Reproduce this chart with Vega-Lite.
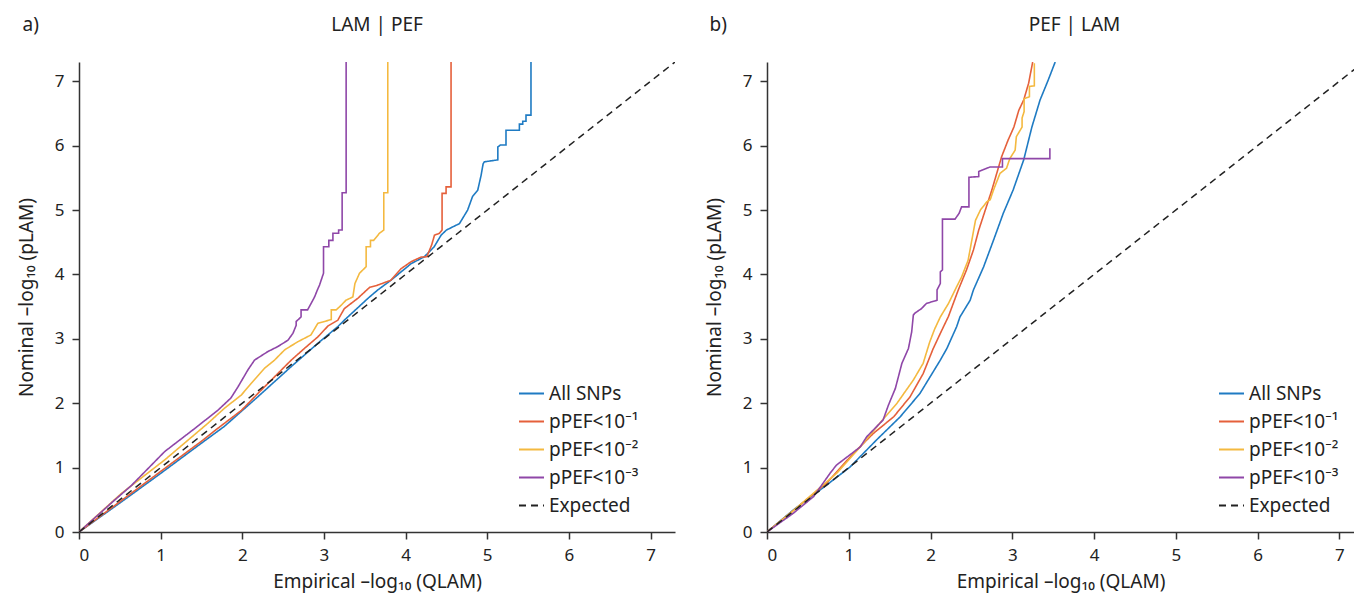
{
  "$schema": "https://vega.github.io/schema/vega-lite/v6.json",
  "padding": {"left": 17, "top": 15, "right": 0, "bottom": 12},
  "background": "white",
  "config": {
    "font": "Noto Sans",
    "view": {"stroke": null},
    "axis": {"grid": false, "format": "d", "domainColor": "#333", "domainWidth": 1.5, "tickColor": "#333", "tickWidth": 1.5, "tickSize": 7, "labelFontSize": 17, "labelColor": "#222", "labelPadding": 8, "titleFontSize": 19, "titleFontWeight": "normal", "titleColor": "#222"},
    "legend": {"orient": "none", "legendX": 439, "legendY": 318, "title": null, "labelFontSize": 19, "labelColor": "#222", "symbolType": "stroke", "symbolSize": 625, "symbolStrokeWidth": 2, "rowPadding": 4, "labelLimit": 300},
    "title": {"fontSize": 19, "fontWeight": "normal", "color": "#222"}
  },
  "datasets": {
    "a": [
      {"s":"All SNPs","i":0,"x":0,"y":0},{"s":"All SNPs","i":1,"x":0.5,"y":0.45},{"s":"All SNPs","i":2,"x":1,"y":0.91},{"s":"All SNPs","i":3,"x":1.5,"y":1.38},{"s":"All SNPs","i":4,"x":1.78,"y":1.64},{"s":"All SNPs","i":5,"x":2.19,"y":2.1},{"s":"All SNPs","i":6,"x":2.6,"y":2.57},{"s":"All SNPs","i":7,"x":2.925,"y":2.93},{"s":"All SNPs","i":8,"x":3.17,"y":3.19},{"s":"All SNPs","i":9,"x":3.25,"y":3.29},{"s":"All SNPs","i":10,"x":3.54,"y":3.63},{"s":"All SNPs","i":11,"x":3.66,"y":3.76},{"s":"All SNPs","i":12,"x":3.82,"y":3.91},{"s":"All SNPs","i":13,"x":4.07,"y":4.17},{"s":"All SNPs","i":14,"x":4.23,"y":4.275},{"s":"All SNPs","i":15,"x":4.35,"y":4.43},{"s":"All SNPs","i":16,"x":4.435,"y":4.61},{"s":"All SNPs","i":17,"x":4.5,"y":4.69},{"s":"All SNPs","i":18,"x":4.66,"y":4.79},{"s":"All SNPs","i":19,"x":4.76,"y":5.0},{"s":"All SNPs","i":20,"x":4.82,"y":5.21},{"s":"All SNPs","i":21,"x":4.884,"y":5.31},{"s":"All SNPs","i":22,"x":4.925,"y":5.54},{"s":"All SNPs","i":23,"x":4.95,"y":5.72},{"s":"All SNPs","i":24,"x":4.966,"y":5.75},{"s":"All SNPs","i":25,"x":5.13,"y":5.78},{"s":"All SNPs","i":26,"x":5.13,"y":5.98},{"s":"All SNPs","i":27,"x":5.16,"y":6.01},{"s":"All SNPs","i":28,"x":5.23,"y":6.01},{"s":"All SNPs","i":29,"x":5.23,"y":6.24},{"s":"All SNPs","i":30,"x":5.394,"y":6.24},{"s":"All SNPs","i":31,"x":5.394,"y":6.335},{"s":"All SNPs","i":32,"x":5.435,"y":6.335},{"s":"All SNPs","i":33,"x":5.435,"y":6.38},{"s":"All SNPs","i":34,"x":5.475,"y":6.38},{"s":"All SNPs","i":35,"x":5.475,"y":6.475},{"s":"All SNPs","i":36,"x":5.536,"y":6.475},{"s":"All SNPs","i":37,"x":5.536,"y":7.3},
      {"s":"pPEF<10⁻¹","i":0,"x":0,"y":0},{"s":"pPEF<10⁻¹","i":1,"x":0.5,"y":0.47},{"s":"pPEF<10⁻¹","i":2,"x":1,"y":0.94},{"s":"pPEF<10⁻¹","i":3,"x":1.5,"y":1.41},{"s":"pPEF<10⁻¹","i":4,"x":1.7,"y":1.61},{"s":"pPEF<10⁻¹","i":5,"x":1.99,"y":1.89},{"s":"pPEF<10⁻¹","i":6,"x":2.19,"y":2.15},{"s":"pPEF<10⁻¹","i":7,"x":2.395,"y":2.41},{"s":"pPEF<10⁻¹","i":8,"x":2.6,"y":2.67},{"s":"pPEF<10⁻¹","i":9,"x":2.76,"y":2.85},{"s":"pPEF<10⁻¹","i":10,"x":2.925,"y":3.03},{"s":"pPEF<10⁻¹","i":11,"x":3.05,"y":3.2},{"s":"pPEF<10⁻¹","i":12,"x":3.17,"y":3.29},{"s":"pPEF<10⁻¹","i":13,"x":3.25,"y":3.47},{"s":"pPEF<10⁻¹","i":14,"x":3.415,"y":3.63},{"s":"pPEF<10⁻¹","i":15,"x":3.56,"y":3.8},{"s":"pPEF<10⁻¹","i":16,"x":3.66,"y":3.835},{"s":"pPEF<10⁻¹","i":17,"x":3.82,"y":3.91},{"s":"pPEF<10⁻¹","i":18,"x":3.945,"y":4.09},{"s":"pPEF<10⁻¹","i":19,"x":4.07,"y":4.2},{"s":"pPEF<10⁻¹","i":20,"x":4.19,"y":4.27},{"s":"pPEF<10⁻¹","i":21,"x":4.26,"y":4.275},{"s":"pPEF<10⁻¹","i":22,"x":4.32,"y":4.46},{"s":"pPEF<10⁻¹","i":23,"x":4.354,"y":4.61},{"s":"pPEF<10⁻¹","i":24,"x":4.415,"y":4.64},{"s":"pPEF<10⁻¹","i":25,"x":4.447,"y":4.69},{"s":"pPEF<10⁻¹","i":26,"x":4.447,"y":5.26},{"s":"pPEF<10⁻¹","i":27,"x":4.496,"y":5.26},{"s":"pPEF<10⁻¹","i":28,"x":4.496,"y":5.36},{"s":"pPEF<10⁻¹","i":29,"x":4.557,"y":5.36},{"s":"pPEF<10⁻¹","i":30,"x":4.557,"y":7.3},
      {"s":"pPEF<10⁻²","i":0,"x":0,"y":0},{"s":"pPEF<10⁻²","i":1,"x":0.52,"y":0.6},{"s":"pPEF<10⁻²","i":2,"x":1.05,"y":1.12},{"s":"pPEF<10⁻²","i":3,"x":1.58,"y":1.69},{"s":"pPEF<10⁻²","i":4,"x":1.78,"y":1.92},{"s":"pPEF<10⁻²","i":5,"x":1.99,"y":2.13},{"s":"pPEF<10⁻²","i":6,"x":2.11,"y":2.31},{"s":"pPEF<10⁻²","i":7,"x":2.27,"y":2.54},{"s":"pPEF<10⁻²","i":8,"x":2.395,"y":2.67},{"s":"pPEF<10⁻²","i":9,"x":2.52,"y":2.83},{"s":"pPEF<10⁻²","i":10,"x":2.68,"y":2.955},{"s":"pPEF<10⁻²","i":11,"x":2.84,"y":3.06},{"s":"pPEF<10⁻²","i":12,"x":2.925,"y":3.24},{"s":"pPEF<10⁻²","i":13,"x":3.09,"y":3.3},{"s":"pPEF<10⁻²","i":14,"x":3.09,"y":3.45},{"s":"pPEF<10⁻²","i":15,"x":3.15,"y":3.45},{"s":"pPEF<10⁻²","i":16,"x":3.21,"y":3.52},{"s":"pPEF<10⁻²","i":17,"x":3.27,"y":3.6},{"s":"pPEF<10⁻²","i":18,"x":3.354,"y":3.65},{"s":"pPEF<10⁻²","i":19,"x":3.38,"y":3.86},{"s":"pPEF<10⁻²","i":20,"x":3.436,"y":4.02},{"s":"pPEF<10⁻²","i":21,"x":3.517,"y":4.12},{"s":"pPEF<10⁻²","i":22,"x":3.517,"y":4.43},{"s":"pPEF<10⁻²","i":23,"x":3.57,"y":4.43},{"s":"pPEF<10⁻²","i":24,"x":3.57,"y":4.53},{"s":"pPEF<10⁻²","i":25,"x":3.61,"y":4.53},{"s":"pPEF<10⁻²","i":26,"x":3.68,"y":4.64},{"s":"pPEF<10⁻²","i":27,"x":3.733,"y":4.69},{"s":"pPEF<10⁻²","i":28,"x":3.733,"y":5.27},{"s":"pPEF<10⁻²","i":29,"x":3.782,"y":5.27},{"s":"pPEF<10⁻²","i":30,"x":3.782,"y":7.3},
      {"s":"pPEF<10⁻³","i":0,"x":0,"y":0},{"s":"pPEF<10⁻³","i":1,"x":0.44,"y":0.5},{"s":"pPEF<10⁻³","i":2,"x":0.64,"y":0.72},{"s":"pPEF<10⁻³","i":3,"x":1.05,"y":1.25},{"s":"pPEF<10⁻³","i":4,"x":1.42,"y":1.61},{"s":"pPEF<10⁻³","i":5,"x":1.58,"y":1.77},{"s":"pPEF<10⁻³","i":6,"x":1.7,"y":1.89},{"s":"pPEF<10⁻³","i":7,"x":1.86,"y":2.08},{"s":"pPEF<10⁻³","i":8,"x":1.95,"y":2.26},{"s":"pPEF<10⁻³","i":9,"x":2.07,"y":2.52},{"s":"pPEF<10⁻³","i":10,"x":2.15,"y":2.67},{"s":"pPEF<10⁻³","i":11,"x":2.31,"y":2.8},{"s":"pPEF<10⁻³","i":12,"x":2.435,"y":2.88},{"s":"pPEF<10⁻³","i":13,"x":2.56,"y":2.98},{"s":"pPEF<10⁻³","i":14,"x":2.62,"y":3.085},{"s":"pPEF<10⁻³","i":15,"x":2.66,"y":3.21},{"s":"pPEF<10⁻³","i":16,"x":2.66,"y":3.27},{"s":"pPEF<10⁻³","i":17,"x":2.72,"y":3.34},{"s":"pPEF<10⁻³","i":18,"x":2.72,"y":3.45},{"s":"pPEF<10⁻³","i":19,"x":2.8,"y":3.45},{"s":"pPEF<10⁻³","i":20,"x":2.843,"y":3.55},{"s":"pPEF<10⁻³","i":21,"x":2.885,"y":3.65},{"s":"pPEF<10⁻³","i":22,"x":2.92,"y":3.76},{"s":"pPEF<10⁻³","i":23,"x":2.946,"y":3.835},{"s":"pPEF<10⁻³","i":24,"x":2.995,"y":4.02},{"s":"pPEF<10⁻³","i":25,"x":2.995,"y":4.43},{"s":"pPEF<10⁻³","i":26,"x":3.06,"y":4.43},{"s":"pPEF<10⁻³","i":27,"x":3.06,"y":4.53},{"s":"pPEF<10⁻³","i":28,"x":3.11,"y":4.53},{"s":"pPEF<10⁻³","i":29,"x":3.11,"y":4.64},{"s":"pPEF<10⁻³","i":30,"x":3.18,"y":4.64},{"s":"pPEF<10⁻³","i":31,"x":3.18,"y":4.69},{"s":"pPEF<10⁻³","i":32,"x":3.223,"y":4.69},{"s":"pPEF<10⁻³","i":33,"x":3.223,"y":5.27},{"s":"pPEF<10⁻³","i":34,"x":3.272,"y":5.27},{"s":"pPEF<10⁻³","i":35,"x":3.272,"y":7.3},
      {"s":"Expected","i":0,"x":0,"y":0},{"s":"Expected","i":1,"x":7.3,"y":7.3}
    ],
    "b": [
      {"s":"All SNPs","i":0,"x":0,"y":0},{"s":"All SNPs","i":1,"x":0.32,"y":0.34},{"s":"All SNPs","i":2,"x":0.73,"y":0.73},{"s":"All SNPs","i":3,"x":1.016,"y":1.01},{"s":"All SNPs","i":4,"x":1.34,"y":1.43},{"s":"All SNPs","i":5,"x":1.63,"y":1.79},{"s":"All SNPs","i":6,"x":1.87,"y":2.15},{"s":"All SNPs","i":7,"x":2.12,"y":2.67},{"s":"All SNPs","i":8,"x":2.2,"y":2.85},{"s":"All SNPs","i":9,"x":2.32,"y":3.19},{"s":"All SNPs","i":10,"x":2.36,"y":3.34},{"s":"All SNPs","i":11,"x":2.485,"y":3.6},{"s":"All SNPs","i":12,"x":2.525,"y":3.76},{"s":"All SNPs","i":13,"x":2.65,"y":4.12},{"s":"All SNPs","i":14,"x":2.77,"y":4.53},{"s":"All SNPs","i":15,"x":2.89,"y":4.95},{"s":"All SNPs","i":16,"x":3.01,"y":5.31},{"s":"All SNPs","i":17,"x":3.14,"y":5.78},{"s":"All SNPs","i":18,"x":3.24,"y":6.29},{"s":"All SNPs","i":19,"x":3.34,"y":6.71},{"s":"All SNPs","i":20,"x":3.44,"y":7.02},{"s":"All SNPs","i":21,"x":3.525,"y":7.3},
      {"s":"pPEF<10⁻¹","i":0,"x":0,"y":0},{"s":"pPEF<10⁻¹","i":1,"x":0.32,"y":0.33},{"s":"pPEF<10⁻¹","i":2,"x":0.73,"y":0.76},{"s":"pPEF<10⁻¹","i":3,"x":1.056,"y":1.22},{"s":"pPEF<10⁻¹","i":4,"x":1.3,"y":1.53},{"s":"pPEF<10⁻¹","i":5,"x":1.55,"y":1.79},{"s":"pPEF<10⁻¹","i":6,"x":1.75,"y":2.1},{"s":"pPEF<10⁻¹","i":7,"x":1.91,"y":2.46},{"s":"pPEF<10⁻¹","i":8,"x":2.03,"y":2.84},{"s":"pPEF<10⁻¹","i":9,"x":2.12,"y":3.085},{"s":"pPEF<10⁻¹","i":10,"x":2.22,"y":3.35},{"s":"pPEF<10⁻¹","i":11,"x":2.34,"y":3.76},{"s":"pPEF<10⁻¹","i":12,"x":2.44,"y":4.07},{"s":"pPEF<10⁻¹","i":13,"x":2.525,"y":4.38},{"s":"pPEF<10⁻¹","i":14,"x":2.59,"y":4.69},{"s":"pPEF<10⁻¹","i":15,"x":2.67,"y":5.0},{"s":"pPEF<10⁻¹","i":16,"x":2.75,"y":5.31},{"s":"pPEF<10⁻¹","i":17,"x":2.81,"y":5.57},{"s":"pPEF<10⁻¹","i":18,"x":2.87,"y":5.83},{"s":"pPEF<10⁻¹","i":19,"x":2.95,"y":6.09},{"s":"pPEF<10⁻¹","i":20,"x":3.02,"y":6.29},{"s":"pPEF<10⁻¹","i":21,"x":3.08,"y":6.55},{"s":"pPEF<10⁻¹","i":22,"x":3.14,"y":6.71},{"s":"pPEF<10⁻¹","i":23,"x":3.2,"y":6.97},{"s":"pPEF<10⁻¹","i":24,"x":3.25,"y":7.3},
      {"s":"pPEF<10⁻²","i":0,"x":0,"y":0},{"s":"pPEF<10⁻²","i":1,"x":0.32,"y":0.33},{"s":"pPEF<10⁻²","i":2,"x":0.85,"y":0.91},{"s":"pPEF<10⁻²","i":3,"x":1.14,"y":1.32},{"s":"pPEF<10⁻²","i":4,"x":1.38,"y":1.69},{"s":"pPEF<10⁻²","i":5,"x":1.59,"y":2.0},{"s":"pPEF<10⁻²","i":6,"x":1.79,"y":2.36},{"s":"pPEF<10⁻²","i":7,"x":1.91,"y":2.62},{"s":"pPEF<10⁻²","i":8,"x":1.99,"y":2.95},{"s":"pPEF<10⁻²","i":9,"x":2.05,"y":3.15},{"s":"pPEF<10⁻²","i":10,"x":2.12,"y":3.34},{"s":"pPEF<10⁻²","i":11,"x":2.22,"y":3.55},{"s":"pPEF<10⁻²","i":12,"x":2.32,"y":3.81},{"s":"pPEF<10⁻²","i":13,"x":2.38,"y":3.96},{"s":"pPEF<10⁻²","i":14,"x":2.46,"y":4.22},{"s":"pPEF<10⁻²","i":15,"x":2.505,"y":4.53},{"s":"pPEF<10⁻²","i":16,"x":2.55,"y":4.84},{"s":"pPEF<10⁻²","i":17,"x":2.61,"y":5.0},{"s":"pPEF<10⁻²","i":18,"x":2.69,"y":5.13},{"s":"pPEF<10⁻²","i":19,"x":2.73,"y":5.16},{"s":"pPEF<10⁻²","i":20,"x":2.77,"y":5.31},{"s":"pPEF<10⁻²","i":21,"x":2.85,"y":5.57},{"s":"pPEF<10⁻²","i":22,"x":2.93,"y":5.65},{"s":"pPEF<10⁻²","i":23,"x":2.97,"y":5.8},{"s":"pPEF<10⁻²","i":24,"x":3.035,"y":5.93},{"s":"pPEF<10⁻²","i":25,"x":3.05,"y":6.14},{"s":"pPEF<10⁻²","i":26,"x":3.12,"y":6.29},{"s":"pPEF<10⁻²","i":27,"x":3.12,"y":6.43},{"s":"pPEF<10⁻²","i":28,"x":3.145,"y":6.53},{"s":"pPEF<10⁻²","i":29,"x":3.145,"y":6.73},{"s":"pPEF<10⁻²","i":30,"x":3.21,"y":6.76},{"s":"pPEF<10⁻²","i":31,"x":3.21,"y":6.92},{"s":"pPEF<10⁻²","i":32,"x":3.27,"y":6.93},{"s":"pPEF<10⁻²","i":33,"x":3.27,"y":7.28},
      {"s":"pPEF<10⁻³","i":0,"x":0,"y":0},{"s":"pPEF<10⁻³","i":1,"x":0.32,"y":0.29},{"s":"pPEF<10⁻³","i":2,"x":0.57,"y":0.55},{"s":"pPEF<10⁻³","i":3,"x":0.77,"y":0.91},{"s":"pPEF<10⁻³","i":4,"x":0.85,"y":1.04},{"s":"pPEF<10⁻³","i":5,"x":1.016,"y":1.2},{"s":"pPEF<10⁻³","i":6,"x":1.14,"y":1.32},{"s":"pPEF<10⁻³","i":7,"x":1.22,"y":1.48},{"s":"pPEF<10⁻³","i":8,"x":1.32,"y":1.61},{"s":"pPEF<10⁻³","i":9,"x":1.42,"y":1.74},{"s":"pPEF<10⁻³","i":10,"x":1.485,"y":1.97},{"s":"pPEF<10⁻³","i":11,"x":1.57,"y":2.23},{"s":"pPEF<10⁻³","i":12,"x":1.65,"y":2.62},{"s":"pPEF<10⁻³","i":13,"x":1.73,"y":2.85},{"s":"pPEF<10⁻³","i":14,"x":1.77,"y":3.11},{"s":"pPEF<10⁻³","i":15,"x":1.79,"y":3.37},{"s":"pPEF<10⁻³","i":16,"x":1.81,"y":3.4},{"s":"pPEF<10⁻³","i":17,"x":1.89,"y":3.47},{"s":"pPEF<10⁻³","i":18,"x":1.95,"y":3.55},{"s":"pPEF<10⁻³","i":19,"x":2.08,"y":3.6},{"s":"pPEF<10⁻³","i":20,"x":2.08,"y":3.76},{"s":"pPEF<10⁻³","i":21,"x":2.12,"y":3.86},{"s":"pPEF<10⁻³","i":22,"x":2.12,"y":4.04},{"s":"pPEF<10⁻³","i":23,"x":2.146,"y":4.07},{"s":"pPEF<10⁻³","i":24,"x":2.146,"y":4.86},{"s":"pPEF<10⁻³","i":25,"x":2.3,"y":4.86},{"s":"pPEF<10⁻³","i":26,"x":2.35,"y":4.95},{"s":"pPEF<10⁻³","i":27,"x":2.38,"y":5.05},{"s":"pPEF<10⁻³","i":28,"x":2.47,"y":5.05},{"s":"pPEF<10⁻³","i":29,"x":2.47,"y":5.51},{"s":"pPEF<10⁻³","i":30,"x":2.59,"y":5.52},{"s":"pPEF<10⁻³","i":31,"x":2.59,"y":5.6},{"s":"pPEF<10⁻³","i":32,"x":2.73,"y":5.67},{"s":"pPEF<10⁻³","i":33,"x":2.88,"y":5.67},{"s":"pPEF<10⁻³","i":34,"x":2.88,"y":5.8},{"s":"pPEF<10⁻³","i":35,"x":3.46,"y":5.8},{"s":"pPEF<10⁻³","i":36,"x":3.46,"y":5.96},
      {"s":"Expected","i":0,"x":0,"y":0},{"s":"Expected","i":1,"x":7.3,"y":7.3}
    ]
  },
  "spacing": 30,
  "hconcat": [
    {
      "width": 596, "height": 470,
      "data": {"name": "a"},
      "title": {"text": "LAM | PEF", "anchor": "middle", "frame": "group", "offset": -20},
      "layer": [
        {
          "transform": [{"filter": "datum.s !== 'Expected'"}],
          "mark": {"type": "line", "clip": true, "strokeWidth": 1.6},
          "encoding": {
            "x": {"field": "x", "type": "quantitative", "scale": {"domain": [0, 7.3], "nice": false}, "axis": {"values": [0,1,2,3,4,5,6,7], "title": "Empirical –log₁₀ (QLAM)", "titlePadding": 9}},
            "y": {"field": "y", "type": "quantitative", "scale": {"domain": [0, 7.3], "nice": false}, "axis": {"values": [0,1,2,3,4,5,6,7], "title": "Nominal –log₁₀ (pLAM)", "titlePadding": 18}},
            "color": {"field": "s", "type": "nominal", "scale": {"domain": ["All SNPs","pPEF<10⁻¹","pPEF<10⁻²","pPEF<10⁻³","Expected"], "range": ["#1f7bc3","#e5603b","#f4b940","#8f47a8","#222222"]}},
            "strokeDash": {"field": "s", "type": "nominal", "scale": {"domain": ["All SNPs","pPEF<10⁻¹","pPEF<10⁻²","pPEF<10⁻³","Expected"], "range": [[1,0],[1,0],[1,0],[1,0],[7,5]]}},
            "order": {"field": "i", "type": "quantitative"}
          }
        },
        {
          "transform": [{"filter": "datum.s === 'Expected'"}],
          "mark": {"type": "line", "clip": true, "strokeWidth": 1.5},
          "encoding": {
            "x": {"field": "x", "type": "quantitative", "scale": {"domain": [0, 7.3], "nice": false}, "axis": {"orient": "top", "title": "a)", "domain": false, "ticks": false, "labels": false, "titleAnchor": "start", "titleAlign": "left", "titleBaseline": "alphabetic", "titleX": -57, "titleY": -32}},
            "y": {"field": "y", "type": "quantitative"},
            "color": {"field": "s", "type": "nominal"},
            "strokeDash": {"field": "s", "type": "nominal"},
            "order": {"field": "i", "type": "quantitative"}
          }
        }
      ],
      "resolve": {"axis": {"x": "independent"}}
    },
    {
      "width": 587, "height": 470,
      "data": {"name": "b"},
      "title": {"text": "PEF | LAM", "anchor": "middle", "frame": "group", "offset": -20, "dx": 14},
      "layer": [
        {
          "transform": [{"filter": "datum.s !== 'Expected'"}],
          "mark": {"type": "line", "clip": true, "strokeWidth": 1.6},
          "encoding": {
            "x": {"field": "x", "type": "quantitative", "scale": {"domain": [0, 7.18], "nice": false}, "axis": {"values": [0,1,2,3,4,5,6,7], "title": "Empirical –log₁₀ (QLAM)", "titlePadding": 9}},
            "y": {"field": "y", "type": "quantitative", "scale": {"domain": [0, 7.3], "nice": false}, "axis": {"values": [0,1,2,3,4,5,6,7], "title": "Nominal –log₁₀ (pLAM)", "titlePadding": 18}},
            "color": {"field": "s", "type": "nominal", "scale": {"domain": ["All SNPs","pPEF<10⁻¹","pPEF<10⁻²","pPEF<10⁻³","Expected"], "range": ["#1f7bc3","#e5603b","#f4b940","#8f47a8","#222222"]}, "legend": {"legendX": 451}},
            "strokeDash": {"field": "s", "type": "nominal", "scale": {"domain": ["All SNPs","pPEF<10⁻¹","pPEF<10⁻²","pPEF<10⁻³","Expected"], "range": [[1,0],[1,0],[1,0],[1,0],[7,5]]}, "legend": {"legendX": 451}},
            "order": {"field": "i", "type": "quantitative"}
          }
        },
        {
          "transform": [{"filter": "datum.s === 'Expected'"}],
          "mark": {"type": "line", "clip": true, "strokeWidth": 1.5},
          "encoding": {
            "x": {"field": "x", "type": "quantitative", "scale": {"domain": [0, 7.18], "nice": false}, "axis": {"orient": "top", "title": "b)", "domain": false, "ticks": false, "labels": false, "titleAnchor": "start", "titleAlign": "left", "titleBaseline": "alphabetic", "titleX": -58, "titleY": -32}},
            "y": {"field": "y", "type": "quantitative"},
            "color": {"field": "s", "type": "nominal"},
            "strokeDash": {"field": "s", "type": "nominal"},
            "order": {"field": "i", "type": "quantitative"}
          }
        }
      ],
      "resolve": {"axis": {"x": "independent"}}
    }
  ],
  "resolve": {"legend": {"color": "independent", "strokeDash": "independent"}, "scale": {"x": "independent"}}
}
